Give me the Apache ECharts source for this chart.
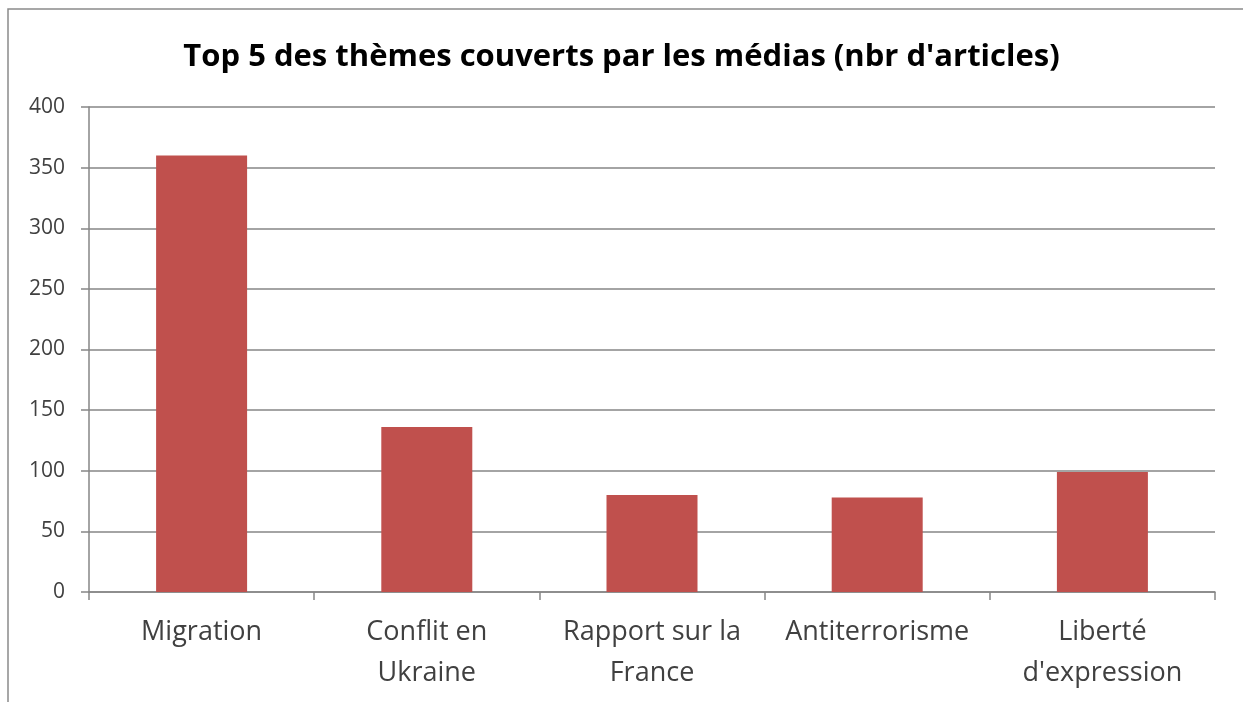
<!DOCTYPE html>
<html lang="fr">
<head>
    <meta charset="utf-8">
    <title>Top 5 des thèmes</title>
    <script src="https://cdn.jsdelivr.net/npm/echarts@6/dist/echarts.min.js"></script>
    <style>
        html, body { margin: 0; padding: 0; background: #fff; }
        #main { width: 1243px; height: 702px; }
    </style>
</head>
<body>
<div id="main"></div>
<script type="text/javascript">
    // données
    var themes = ['Migration', 'Conflit en\nUkraine', 'Rapport sur la\nFrance', 'Antiterrorisme', 'Liberté\nd\'expression'];
    var articles = [360, 136, 80, 78, 99];
    var yTicks = [0, 50, 100, 150, 200, 250, 300, 350, 400];

    var myChart = echarts.init(document.getElementById('main'));

    myChart.setOption({
        animation: false,
        backgroundColor: '#fff',
        title: {
            text: 'Top 5 des thèmes couverts par les médias (nbr d\'articles)',
            left: 'center',
            top: 37,
            textStyle: {
                fontFamily: 'Open Sans',
                fontWeight: 'bold',
                fontSize: 31,
                color: '#000'
            }
        },
        graphic: [{
            type: 'rect',
            shape: { x: 8, y: 9, width: 1260, height: 720 },
            style: { fill: 'none', stroke: '#8a8a8a', lineWidth: 1.5 },
            silent: true
        }],
        grid: { left: 89, right: 28, top: 107, bottom: 110 },
        xAxis: {
            type: 'category',
            data: themes,
            axisLine: { lineStyle: { color: '#868686', width: 1.5 } },
            axisTick: { show: true, length: 8, lineStyle: { color: '#868686', width: 1.5 } },
            axisLabel: {
                margin: 20,
                fontFamily: 'Open Sans',
                fontSize: 27,
                lineHeight: 41,
                color: '#404040',
                interval: 0
            }
        },
        yAxis: {
            type: 'value',
            min: yTicks[0],
            max: yTicks[yTicks.length - 1],
            interval: yTicks[1] - yTicks[0],
            axisLine: { show: true, lineStyle: { color: '#868686', width: 1.5 } },
            axisTick: { show: true, length: 8, lineStyle: { color: '#868686', width: 1.5 } },
            splitLine: { lineStyle: { color: '#868686', width: 1.5 } },
            axisLabel: {
                margin: 24,
                fontFamily: 'Open Sans',
                fontSize: 21,
                color: '#404040'
            }
        },
        series: [{
            name: 'articles',
            type: 'bar',
            data: articles,
            barWidth: 91,
            itemStyle: { color: '#c0504d' }
        }]
    });
</script>
</body>
</html>
